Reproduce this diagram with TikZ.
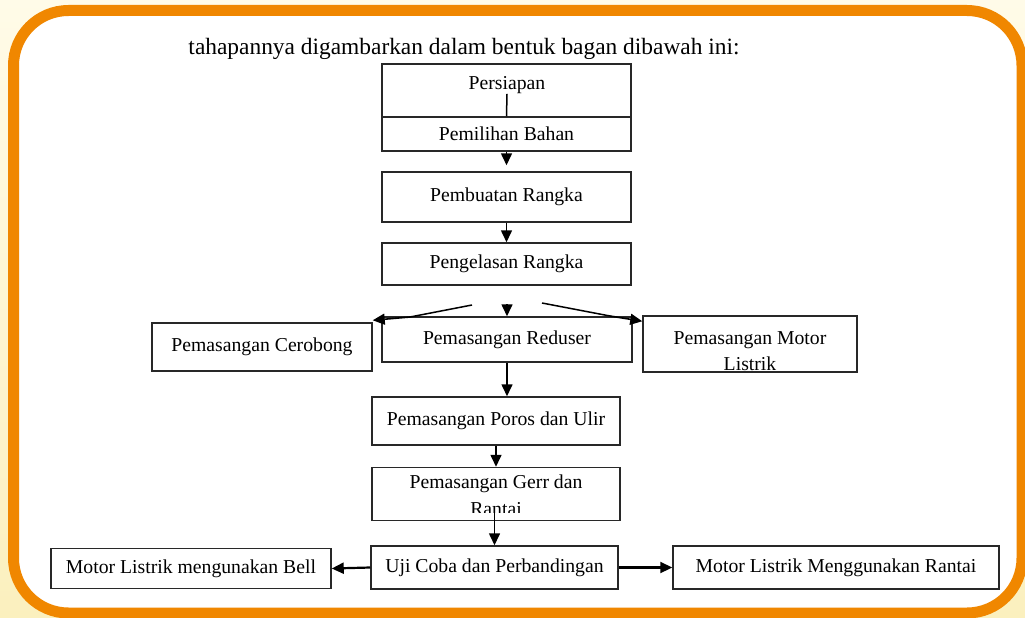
\documentclass[tikz,border=0pt]{standalone}
\usepackage{fontspec}
\setmainfont{Liberation Serif}
\usetikzlibrary{arrows.meta}

\definecolor{framecol}{RGB}{240,135,0}
\definecolor{creamcol}{RGB}{255,251,232}
\definecolor{lemoncol}{RGB}{251,240,190}
\definecolor{linecol}{RGB}{40,40,40}

\tikzset{
  box/.style={draw=linecol, line width=1.5, inner sep=0, align=center,
    font=\fontsize{19.7}{23}\selectfont},
  boxtext/.style={inner sep=0, align=center, font=\fontsize{19.7}{23}\selectfont},
  arr/.style={draw=black, line width=1.6, -{Triangle[length=12pt,width=11pt]}},
  link/.style={draw=black, line width=1.5}
}

\begin{document}
\begin{tikzpicture}[x=1pt,y=-1pt]
            \useasboundingbox (0,0) rectangle (1025,618);
            \shade[top color=creamcol, bottom color=lemoncol] (0,0) rectangle (1025,618);
            \draw[framecol, fill=white, line width=11, rounded corners=55] (13.5,10.5) rectangle (1022,613);

            \node[boxtext, font=\fontsize{23.4}{26}\selectfont] (title) at (464,49) {tahapannya digambarkan dalam bentuk bagan dibawah ini:};

            \node[box, minimum width=249, minimum height=53] (persiapan) at (506.5,90.5) {};
            \node[boxtext] (persiapantxt) at (507,85) {Persiapan};
            \node[box, minimum width=249, minimum height=34] (pemilihan) at (506.5,134) {Pemilihan Bahan};
            \node[box, minimum width=249, minimum height=50] (pembuatan) at (506.5,197) {Pembuatan Rangka};
            \node[box, minimum width=249, minimum height=42] (pengelasan) at (506.5,264) {Pengelasan Rangka};

            \node[box, minimum width=250, minimum height=45] (reduser) at (507,339.5) {Pemasangan Reduser};
            \node[box, minimum width=220, minimum height=48] (cerobong) at (262,347) {Pemasangan Cerobong};
            \node[box, minimum width=214, minimum height=56] (motor) at (750,344) {};
            \begin{scope}
                \clip (motor.north west) rectangle ([yshift=2]motor.south east);
                \node[boxtext, font=\fontsize{19.7}{26}\selectfont] (motortxt) at (750,351.5) {Pemasangan Motor\\Listrik};
            \end{scope}

            \node[box, minimum width=248, minimum height=48] (poros) at (496,421) {Pemasangan Poros dan Ulir};
            \node[box, minimum width=248, minimum height=53] (gerr) at (496,494) {};
            \begin{scope}
                \clip (gerr.north west) rectangle ([yshift=8.5]gerr.south east);
                \node[boxtext, font=\fontsize{19.7}{27}\selectfont] (gerrtxt) at (496,495) {Pemasangan Gerr dan\\Rantai};
            \end{scope}

            \node[box, minimum width=247, minimum height=43] (uji) at (494.5,567.5) {Uji Coba dan Perbandingan};
            \node[box, minimum width=280, minimum height=40] (bell) at (191,568.5) {Motor Listrik mengunakan Bell};
            \node[box, minimum width=326, minimum height=43] (rantai) at (836,567.5) {Motor Listrik Menggunakan Rantai};

            \coordinate (lsplit) at (472,305);
            \coordinate (lbend) at (410,317);
            \coordinate (msplit) at (507,304);
            \coordinate (rsplit) at (542,303);
            \coordinate (rbend) at (610,316);

            \draw[link] (persiapantxt.south) -- (pemilihan.north);
            \draw[arr, shorten >=6] (pemilihan.south) -- (pembuatan.north);
            \draw[arr] (pembuatan.south) -- (pengelasan.north);

            \draw[link] (lsplit) -- (lbend);
            \draw[arr] (lbend) -- ([yshift=2]cerobong.north east);
            \draw[arr] (msplit) -- (reduser.north);
            \draw[link] (rsplit) -- (rbend);
            \draw[arr] (rbend) -- ([yshift=-6]motor.north west);

            \draw[arr] (reduser.south) -- (reduser.south |- poros.north);
            \draw[arr] (poros.south) -- (gerr.north);
            \draw[arr] ([yshift=9]gerr.south -| uji.north) -- (uji.north);
            \draw[arr, line width=2.2] (uji.west) -- (bell.east);
            \draw[arr, line width=2.2] (uji.east) -- (rantai.west);
    \end{tikzpicture}
\end{document}
